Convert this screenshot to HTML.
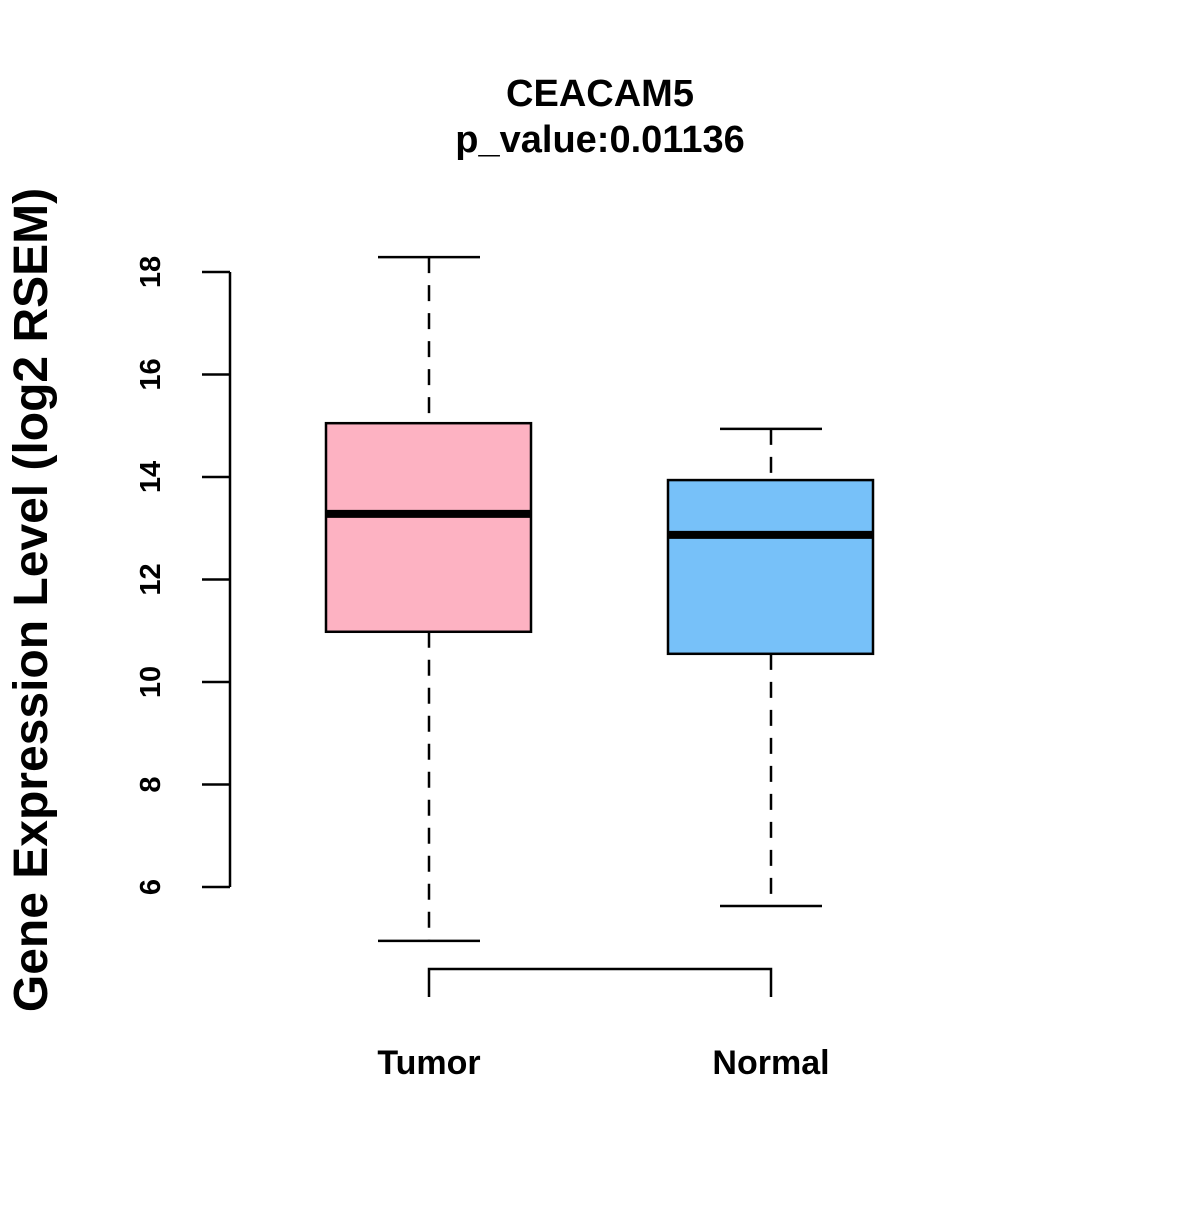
<!DOCTYPE html>
<html><head><meta charset="utf-8"><style>
body{margin:0;background:#fff}
text{font-family:"Liberation Sans",Arial,sans-serif;font-weight:bold}
</style></head><body>
<svg id="chart" width="1200" height="1200" viewBox="0 0 1200 1200" xmlns="http://www.w3.org/2000/svg">
<rect width="1200" height="1200" fill="#fff"/>
<text x="600" y="106" font-size="38" text-anchor="middle">CEACAM5</text>
<text x="600" y="152" font-size="38" text-anchor="middle">p_value:0.01136</text>
<text transform="translate(47,600) rotate(-90)" font-size="48" text-anchor="middle">Gene Expression Level (log2 RSEM)</text>
<g id="yaxis"></g>
<g id="boxes"></g>
<g id="xaxis"></g>
</svg>
<script>
const categories=["Tumor","Normal"];
const whiskerLow=[4.95,5.63];
const q1=[10.98,10.55];
const medians=[13.28,12.87];
const q3=[15.05,13.94];
const whiskerHigh=[18.29,14.94];
const colors=["#FDB2C2","#77C1F9"];
const yTicks=[6,8,10,12,14,16,18];
const NS="http://www.w3.org/2000/svg";
function y(v){return 272+(18-v)*51.25;}
function x(i){return 429+i*342;}
function mk(tag,attrs,parent){const e=document.createElementNS(NS,tag);for(const k in attrs)e.setAttribute(k,attrs[k]);parent.appendChild(e);return e;}
const ya=document.getElementById('yaxis');
const l=mk('line',{x1:230,x2:230,y1:y(yTicks[yTicks.length-1]),y2:y(yTicks[0]),stroke:'#000','stroke-width':2.5},ya);


yTicks.forEach(t=>{
 const tk=mk('line',{x1:202,x2:230,y1:y(t),y2:y(t),stroke:'#000','stroke-width':2.5},ya);
 
 
 const tx=mk('text',{transform:`translate(160,${y(t)}) rotate(-90)`,'font-size':29,'text-anchor':'middle'},ya);
 
 
 tx.textContent=t;
});
const bx=document.getElementById('boxes');
categories.forEach((c,i)=>{
 const cx=x(i);
 const g=mk('g',{},bx);
 
 
 mk('line',{x1:cx,x2:cx,y1:y(whiskerHigh[i]),y2:y(q3[i]),stroke:'#000','stroke-width':2.5,'stroke-dasharray':'16,12'},g);
 mk('line',{x1:cx,x2:cx,y1:y(q1[i]),y2:y(whiskerLow[i]),stroke:'#000','stroke-width':2.5,'stroke-dasharray':'16,12'},g);
 mk('line',{x1:cx-51,x2:cx+51,y1:y(whiskerHigh[i]),y2:y(whiskerHigh[i]),stroke:'#000','stroke-width':2.5},g);
 mk('line',{x1:cx-51,x2:cx+51,y1:y(whiskerLow[i]),y2:y(whiskerLow[i]),stroke:'#000','stroke-width':2.5},g);
 mk('rect',{x:cx-103,width:205,y:y(q3[i]),height:y(q1[i])-y(q3[i]),fill:colors[i],stroke:'#000','stroke-width':2.5},g);
 mk('line',{x1:cx-103,x2:cx+102,y1:y(medians[i]),y2:y(medians[i]),stroke:'#000','stroke-width':8},g);
});
const xa=document.getElementById('xaxis');
const p=mk('path',{d:`M${x(0)},997 V969 H${x(1)} V997`,fill:'none',stroke:'#000','stroke-width':2.5},xa);


categories.forEach((c,i)=>{
 const t=mk('text',{x:x(i),y:1074,'font-size':34,'text-anchor':'middle'},xa);
 
 
 t.textContent=c;
});
</script>
</body></html>
